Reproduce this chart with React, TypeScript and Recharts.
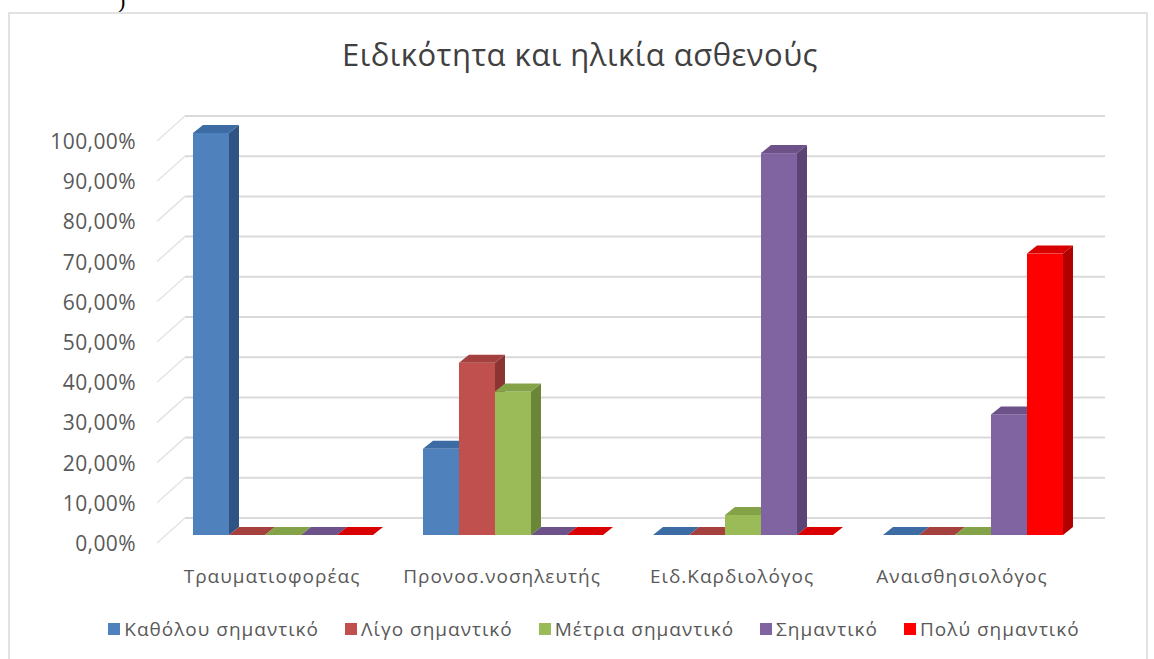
import { Bar, BarChart, CartesianGrid, Legend, XAxis, YAxis } from 'recharts';

const categories = ['Τραυματιοφορέας', 'Προνοσ.νοσηλευτής', 'Ειδ.Καρδιολόγος', 'Αναισθησιολόγος'];
const seriesNames = ['Καθόλου σημαντικό', 'Λίγο σημαντικό', 'Μέτρια σημαντικό', 'Σημαντικό', 'Πολύ σημαντικό'];
const notAtAll = [1, 0.2143, 0, 0];
const little = [0, 0.4286, 0, 0];
const moderate = [0, 0.3571, 0.05, 0];
const important = [0, 0, 0.95, 0.3];
const veryImportant = [0, 0, 0, 0.7];
const yTicks = [0, 0.1, 0.2, 0.3, 0.4, 0.5, 0.6, 0.7, 0.8, 0.9, 1];

// front, side, top faces
const COLORS = [
  ['#4F81BD', '#2F5483', '#3D6BA3'],
  ['#C0504D', '#8A3533', '#A4413E'],
  ['#9BBB59', '#6B8638', '#84A348'],
  ['#8064A2', '#5A4475', '#6C5289'],
  ['#FF0000', '#B00000', '#D80000'],
];

const PLOT_LEFT = 167;
const PLOT_RIGHT = 1087;
const PLOT_TOP = 133;
const PLOT_BOTTOM = 535;
const DX = 10;
const DY = 8;
const BACK_DX = 18;
const BACK_DY = 17;

const seriesValues = [notAtAll, little, moderate, important, veryImportant];
const data = categories.map((name, i) => {
  const row: Record<string, string | number> = { name };
  seriesNames.forEach((s, j) => {
    row[s] = seriesValues[j][i];
  });
  return row;
});

const fmt = (v: number) => (v * 100).toFixed(2).replace('.', ',') + '%';

function box3d(idx: number) {
  return (props: any) => {
    const { x, y, width: w, height: h } = props;
    const [front, side, top] = COLORS[idx];
    return (
      <g>
        {h > 0 && <rect x={x} y={y} width={w} height={h} fill={front} />}
        {h > 0 && (
          <polygon points={`${x + w},${y} ${x + w + DX},${y - DY} ${x + w + DX},${y + h - DY} ${x + w},${y + h}`} fill={side} />
        )}
        <polygon points={`${x},${y} ${x + DX},${y - DY} ${x + w + DX},${y - DY} ${x + w},${y}`} fill={top} />
      </g>
    );
  };
}

function GridLine(props: any) {
  const { y1, x1, x2 } = props;
  return (
    <g key={props.key}>
      <line x1={x1 - DX} y1={y1 + DY} x2={x1 + BACK_DX} y2={y1 - BACK_DY} stroke="#e4e4e4" strokeWidth={1.5} />
      <line x1={x1 + BACK_DX} y1={y1 - BACK_DY} x2={x2 + BACK_DX} y2={y1 - BACK_DY} stroke="#d9d9d9" strokeWidth={2} />
    </g>
  );
}

function YTick(props: any) {
  const { y, payload } = props;
  return (
    <text x={PLOT_LEFT - 31} y={y + DY} textAnchor="end" dominantBaseline="central" fill="#595959" fontSize={21} letterSpacing={0.4}>
      {fmt(payload.value)}
    </text>
  );
}

function XTick(props: any) {
  const { x, payload } = props;
  return (
    <text x={x - DX} y={576} textAnchor="middle" dominantBaseline="central" fill="#595959" fontSize={19} letterSpacing={1}>
      {payload.value}
    </text>
  );
}

function LegendContent() {
  return (
    <div style={{ display: 'flex', justifyContent: 'center', gap: 26, fontSize: 19, letterSpacing: 1, color: '#595959' }}>
      {seriesNames.map((s, i) => (
        <span key={s} style={{ display: 'flex', alignItems: 'center' }}>
          <span style={{ width: 12, height: 12, background: COLORS[i][0], marginRight: 4, display: 'inline-block' }} />
          {s}
        </span>
      ))}
    </div>
  );
}

export default function App() {
  return (
    <div style={{ position: 'relative', width: 1154, height: 659, background: '#fff', overflow: 'hidden', fontFamily: '"Open Sans", sans-serif' }}>
      <style>{'body{margin:0}'}</style>
      <div style={{ position: 'absolute', left: 118, top: -12, fontFamily: 'serif', fontSize: 22, color: '#000' }}>)</div>
      <div style={{ position: 'absolute', left: 8, top: 12, width: 1140, height: 700, border: '2px solid #e2e2e2', boxSizing: 'border-box' }} />
      <div style={{ position: 'absolute', left: 0, top: 33, width: 1160, textAlign: 'center', fontSize: 31, letterSpacing: 0.5, color: '#404040' }}>
        Ειδικότητα και ηλικία ασθενούς
      </div>
      <div style={{ position: 'absolute', left: 0, top: 0 }}>
        <BarChart
          width={1154}
          height={659}
          data={data}
          margin={{ top: PLOT_TOP, right: 1154 - PLOT_RIGHT, bottom: 659 - PLOT_BOTTOM - 40, left: PLOT_LEFT - 60 }}
          barCategoryGap="11.3%"
          barGap={0}
        >
          <CartesianGrid horizontal={(p: any) => <GridLine {...p} />} vertical={false} />
          <XAxis dataKey="name" height={40} axisLine={false} tickLine={false} tick={<XTick />} interval={0} />
          <YAxis width={60} domain={[0, 1]} ticks={yTicks} axisLine={false} tickLine={false} tick={<YTick />} />
          <Legend
            layout="horizontal"
            verticalAlign="middle"
            wrapperStyle={{ top: 616, left: 0, width: 1188 }}
            content={<LegendContent />}
          />
          {seriesNames.map((s, i) => (
            <Bar key={s} dataKey={s} isAnimationActive={false} shape={box3d(i)} />
          ))}
        </BarChart>
      </div>
    </div>
  );
}
